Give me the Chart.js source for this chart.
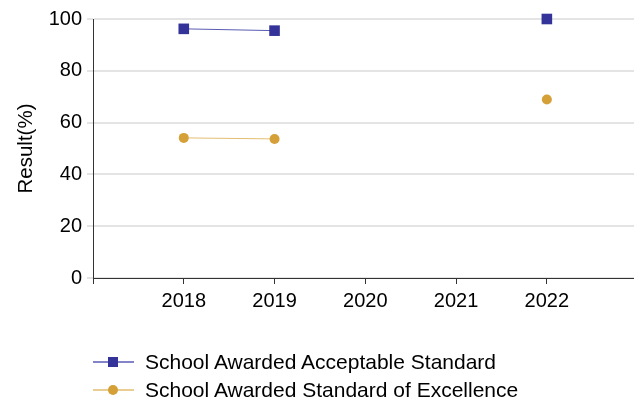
<!DOCTYPE html>
<html>
<head>
<meta charset="utf-8">
<script src="https://cdn.jsdelivr.net/npm/chart.js@4/dist/chart.umd.min.js"></script>
<style>
  body { margin: 0; background: #fff; }
  #wrap { position: relative; width: 634px; height: 400px; }
  #legend { position: absolute; left: 93px; top: 348px; font-family: "Liberation Sans", Arial, sans-serif; font-size: 21px; color: #000; }
  #legend .row { display: flex; align-items: center; height: 28px; }
  #legend svg { margin-right: 11px; }
</style>
</head>
<body>
<div id="wrap">
  <canvas id="chart" width="634" height="400"></canvas>
  <div id="legend"></div>
</div>
<script>
// === DADOS ===
const years = [2018, 2019, 2020, 2021, 2022];
const acceptable = [96.2, 95.5, null, null, 100];
const excellence = [54.1, 53.7, null, null, 68.9];
const yTicks = [0, 20, 40, 60, 80, 100];

const seriesNames = ["School Awarded Acceptable Standard", "School Awarded Standard of Excellence"];
const blue = "#333399";
const gold = "#d4a037";
const lineColors = ["#5a5ab4", "#e2be70"];

const toPoints = vals => years.map((yr, i) => ({ x: yr, y: vals[i] }));

// === GRÁFICO ===
new Chart(document.getElementById("chart"), {
  type: "line",
  data: {
    datasets: [
      {
        label: seriesNames[0],
        data: toPoints(acceptable),
        borderColor: lineColors[0],
        borderWidth: 1,
        pointStyle: "rect",
        pointRadius: 7.5,
        pointBackgroundColor: blue,
        pointBorderWidth: 0,
        spanGaps: false,
        clip: false
      },
      {
        label: seriesNames[1],
        data: toPoints(excellence),
        borderColor: lineColors[1],
        borderWidth: 1,
        pointStyle: "circle",
        pointRadius: 5,
        pointBackgroundColor: gold,
        pointBorderWidth: 0,
        spanGaps: false,
        clip: false
      }
    ]
  },
  options: {
    responsive: false,
    animation: false,
    layout: { autoPadding: false, padding: { top: 19, right: 0, bottom: 0, left: 0 } },
    plugins: { legend: { display: false }, tooltip: { enabled: false } },
    scales: {
      x: {
        type: "linear",
        min: 2017,
        max: 2022.96,
        afterBuildTicks: s => { s.ticks = [2017].concat(years).map(v => ({ value: v })); },
        afterFit: s => { s.height = 122; s.paddingLeft = 0; s.paddingRight = 0; },
        grid: { drawOnChartArea: false, color: "#333", tickLength: 6 },
        border: { color: "#333", width: 1 },
        ticks: {
          autoSkip: false, maxRotation: 0, color: "#000", padding: 5,
          font: { family: "Liberation Sans", size: 20 },
          callback: v => (v === 2017 ? "" : String(v))
        }
      },
      y: {
        min: 0,
        max: 100,
        afterBuildTicks: s => { s.ticks = yTicks.map(v => ({ value: v })); },
        afterFit: s => { s.width = 93; s.paddingTop = 0; s.paddingBottom = 0; },
        grid: { color: "#e4e4e4", lineWidth: 2, tickLength: 6 },
        border: { color: "#333", width: 1 },
        ticks: { color: "#000", padding: 5, font: { family: "Liberation Sans", size: 20 } },
        title: { display: true, text: "Result(%)", color: "#000", padding: { top: 14, bottom: 0 }, font: { family: "Liberation Sans", size: 20.5 } }
      }
    }
  }
});

// === LEGENDA ===
const legend = document.getElementById("legend");
const markers = [
  `<rect x="15" y="3" width="10" height="10" fill="${blue}"/>`,
  `<circle cx="20" cy="8" r="5" fill="${gold}"/>`
];
seriesNames.forEach((name, i) => {
  const row = document.createElement("div");
  row.className = "row";
  row.innerHTML = `<svg width="41" height="16"><line x1="0" y1="8" x2="41" y2="8" stroke="${lineColors[i]}" stroke-width="1.5"/>${markers[i]}</svg><span>${name}</span>`;
  legend.appendChild(row);
});
</script>
</body>
</html>
